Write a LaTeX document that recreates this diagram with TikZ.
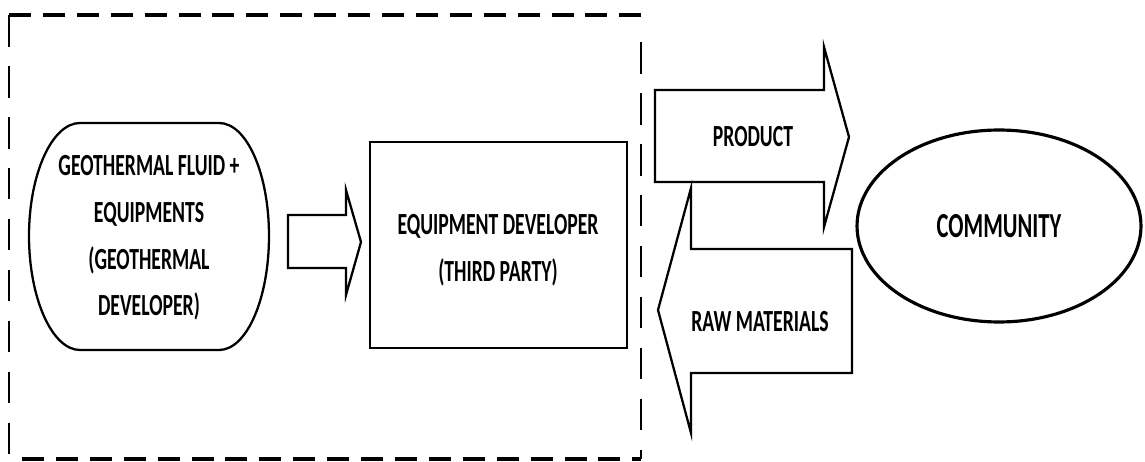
\documentclass[tikz,border=0pt]{standalone}
\usepackage{fontspec}
\setmainfont[FakeStretch=0.64]{Carlito}
\usetikzlibrary{shapes.geometric}

\begin{document}
\begin{tikzpicture}[x=0.02cm,y=-0.02cm,line width=1.3pt,line join=miter,
    lbl/.style={font=\fontsize{17.5}{26.6}\selectfont\bfseries,align=center,inner sep=0pt},
    topdash/.style={line width=2pt,dash pattern=on 12.5pt off 6.8pt},
    sidedash/.style={line width=1.3pt,dash pattern=on 18pt off 11pt},
    blockarrow/.style={fill=white,line width=1.3pt}]
    \useasboundingbox (0,0) rectangle (1145,462);
    % Dashed boundary
    \draw[topdash] (9,15) -- (641,15);
    \draw[topdash] (22,459) -- (641,459);
    \draw[sidedash] (9,15) -- (9,459);
    \draw[sidedash] (641,42) -- (641,459);
    % Geothermal developer
    \draw (80,123) -- (219,123) .. controls (247,123) and (269,174) .. (269,236)
        .. controls (269,298) and (247,350) .. (219,350) -- (80,350)
        .. controls (52,350) and (29,298) .. (29,236)
        .. controls (29,174) and (52,123) .. (80,123) -- cycle;
    \node[lbl] (geo) at (149,238) {GEOTHERMAL FLUID +\\EQUIPMENTS\\(GEOTHERMAL\\DEVELOPER)};
    % Equipment developer
    \node[draw,minimum width=5.14cm,minimum height=4.12cm] (dev) at (498.5,245) {};
    \node[lbl] (devtext) at (498,250) {EQUIPMENT DEVELOPER\\(THIRD PARTY)};
    % Transfer to third party
    \draw[blockarrow] (288,215) -- (346,215) -- (346,190) -- (361,242)
        -- (346,295) -- (346,268) -- (288,268) -- cycle;
    % Flows with the community
    \draw[blockarrow] (655,90) -- (824,90) -- (824,47) -- (849,137)
        -- (824,227) -- (824,182) -- (655,182) -- cycle;
    \node[lbl] (product) at (753,137) {PRODUCT};
    \draw[blockarrow] (852,249) -- (691,249) -- (691,188) -- (658,310)
        -- (691,433) -- (691,373) -- (852,373) -- cycle;
    \node[lbl] (raw) at (760,322) {RAW MATERIALS};
    % Community
    \node[draw,ellipse,line width=1.8pt,minimum width=5.68cm,minimum height=3.84cm,lbl,
        font=\fontsize{20}{24}\selectfont\bfseries] (comm) at (999,226) {COMMUNITY};
\end{tikzpicture}
\end{document}
